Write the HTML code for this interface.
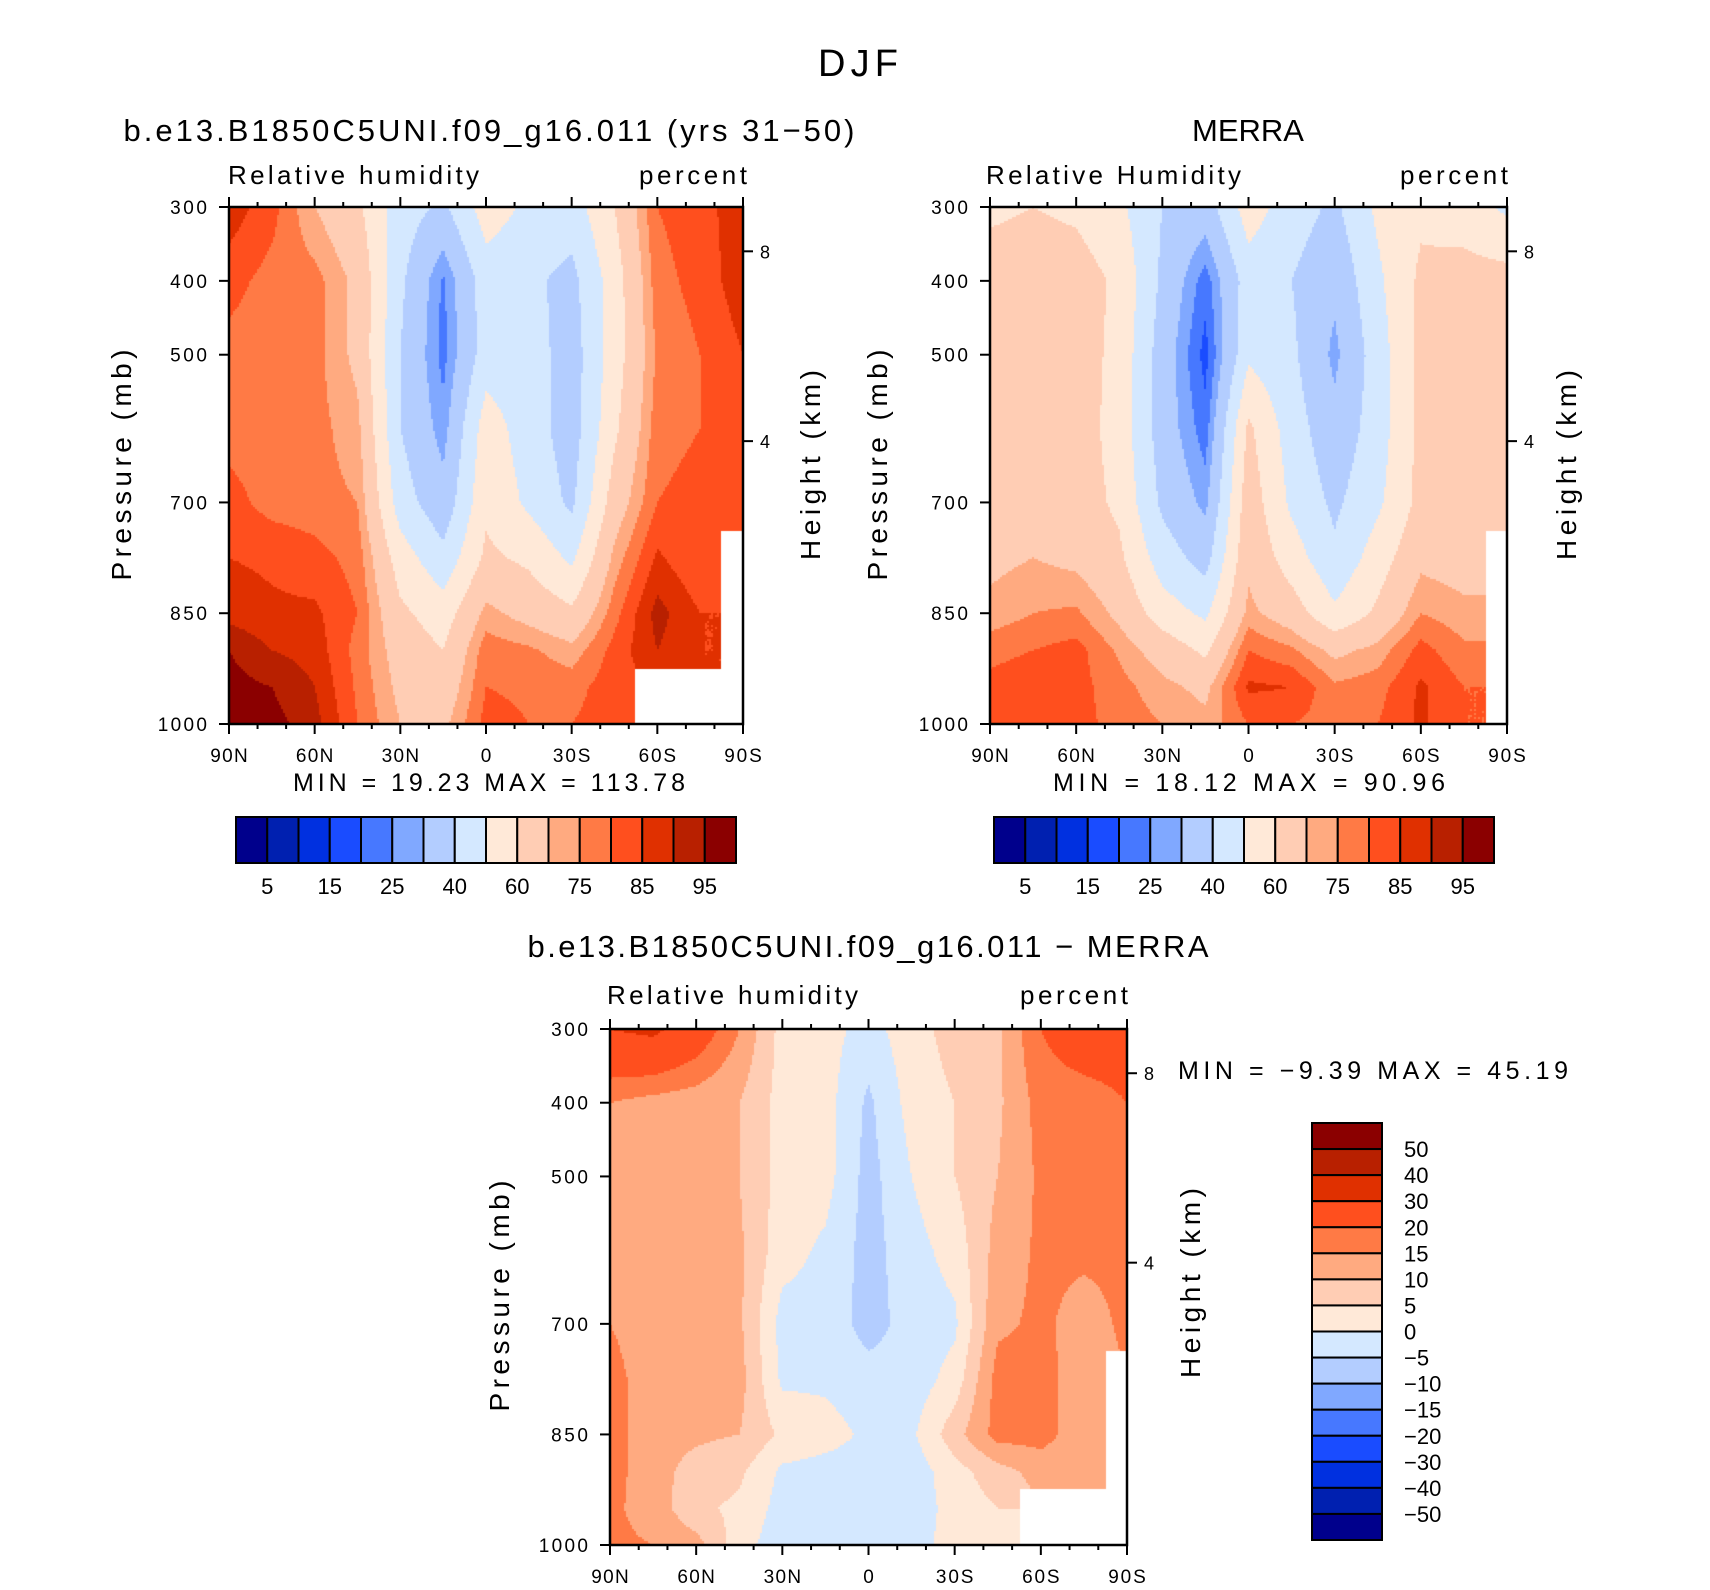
<!DOCTYPE html>
<html><head><meta charset="utf-8">
<style>
html,body{margin:0;padding:0;background:#fff;}
#wrap{position:relative;width:1710px;height:1590px;overflow:hidden;background:#fff;font-family:"Liberation Sans",sans-serif;}
canvas{position:absolute;}
svg{position:absolute;left:0;top:0;}
</style></head>
<body>
<div id="wrap">
<svg id="svg" width="1710" height="1590"></svg>
</div>
<script>
const LATS=[90,75,60,45,30,15,0,-15,-30,-45,-60,-75,-90];
const PRES=[300,400,500,600,700,775,850,900,950,1000];
const RH_MODEL=[
[88,82,78,78,82,85,88,95,97,97],
[82,78,77,77,78,84,86,90,95,97],
[70,77,77,77,77,82,86,88,90,92],
[62,68,68,72,75,78,80,78,79,80],
[45,42,40,40,45,55,62,66,68,70],
[38,24,23,27,33,43,55,60,64,68],
[55,45,45,55,58,62,72,78,80,82],
[48,42,45,45,48,58,67,76,79,80],
[45,37,35,35,38,48,62,72,78,80],
[60,55,55,58,65,72,78,82,83,83],
[80,78,76,78,80,86,92,90,null,null],
[83,82,80,80,82,80,85,85,null,null],
[88,88,85,82,82,null,null,null,null,null]];
const RH_MERRA=[
[58,65,65,65,65,68,72,78,82,84],
[60,66,66,66,66,70,75,80,84,85],
[58,65,65,65,65,68,76,82,82,82],
[52,58,57,56,58,62,68,74,77,78],
[40,38,35,35,38,45,55,66,72,75],
[35,22,18,22,28,36,48,58,68,72],
[55,45,48,62,66,68,72,80,86,80],
[45,40,42,45,48,55,65,76,85,80],
[38,32,28,33,38,42,52,68,76,78],
[52,48,45,45,48,55,62,72,78,80],
[58,62,63,63,63,68,75,82,86,86],
[55,64,65,65,66,66,72,76,80,80],
[48,64,64,60,60,null,null,null,null,null]];
const RH_DIFF=[
[30,15,14,14,15,17,17,17,16,16],
[32,13,12,12,12,12,12,12,13,15],
[25,12,12,12,12,12,11,8,6,12],
[15,10,10,11,11,12,10,6,4,2],
[3,3,3,2,-2,-1,4,-1,-2,-3],
[2,2,2,-1,-2,-1,2,-2,-3,-3],
[-2,-6,-7,-7,-7,-3,-1,-2,-3,-3],
[3,2,0,-2,-3,-3,-1,-3,-3,-2],
[7,5,5,2,-1,2,8,3,2,2],
[9,9,10,12,14,17,17,8,5,3],
[20,17,16,16,16,17,17,12,null,null],
[25,17,16,16,13,12,12,12,null,null],
[24,20,17,16,16,null,null,null,null,null]];
const LEVELS_RH=[5,10,15,20,25,30,40,50,60,70,75,80,85,90,95];
const LEVELS_DIFF=[-50,-40,-30,-20,-15,-10,-5,0,5,10,15,20,30,40,50];
const CB_RH_LABELS=["5","15","25","40","60","75","85","95"];
const CB_DIFF_LABELS=["50","40","30","20","15","10","5","0","\u22125","\u221210","\u221215","\u221220","\u221230","\u221240","\u221250"];
const COLORS=["#00008c","#0020b0","#0030e0","#1a4cff","#4778ff","#80a8ff","#b3cdff","#d4e8ff","#ffe9d8","#ffcdb4","#ffaa80","#ff7a45","#ff4f1e","#e03000","#b82000","#8b0000"];
const XTICK_LABELS=["90N","60N","30N","0","30S","60S","90S"];
const YTICK_LABELS=[300,400,500,700,850,1000];
const HT_LABELS=[8,4];
const HT_PRES=[360,617];

const NS="http://www.w3.org/2000/svg";
const svg=document.getElementById('svg');
const wrap=document.getElementById('wrap');
function mk(tag,attrs,parent){const e=document.createElementNS(NS,tag);for(const k in attrs)e.setAttribute(k,attrs[k]);(parent||svg).appendChild(e);return e;}
function txt(s,x,y,size,anchor,parent,name,rot,len){
  const t=mk('text',{x:x,y:y,'font-size':size,'text-anchor':anchor||'middle','font-family':'Liberation Sans, sans-serif',fill:'#000'},parent);
  if(rot)t.setAttribute('transform','rotate(-90 '+x+' '+y+')');
  if(len){t.setAttribute('textLength',len);t.setAttribute('lengthAdjust','spacing');}
  
  
  t.textContent=s;return t;}
function colorIdx(v,levels){let i=0;while(i<levels.length&&v>=levels[i])i++;return i;}
function sample(field,lat,p){
  let i=0;while(i<LATS.length-2&&lat<LATS[i+1])i++;
  let j=0;while(j<PRES.length-2&&p>PRES[j+1])j++;
  const fx=(LATS[i]-lat)/(LATS[i]-LATS[i+1]);
  const fy=(p-PRES[j])/(PRES[j+1]-PRES[j]);
  const a=field[i][j],b=field[i+1][j],c=field[i][j+1],d=field[i+1][j+1];
  const near=field[fx<0.5?i:i+1][fy<0.5?j:j+1];
  if(near===null)return null;
  const vals=[[a,(1-fx)*(1-fy)],[b,fx*(1-fy)],[c,(1-fx)*fy],[d,fx*fy]];
  let s=0,w=0;for(const[v,ww]of vals){if(v!==null){s+=v*ww;w+=ww;}}
  return w>0?s/w:null;}
function lx(lat,x0,w){return x0+(90-lat)/180*w;}
function py(p,y0,h){return y0+(p-300)/700*h;}

function plot(name,field,levels,x0,y0,w,h){
  const cv=document.createElement('canvas');
  cv.width=w;cv.height=h;cv.style.left=x0+'px';cv.style.top=y0+'px';
  
  
  wrap.insertBefore(cv,svg);
  const ctx=cv.getContext('2d');
  for(let y=0;y<h;y+=2){for(let x=0;x<w;x+=2){
    const lat=90-180*(x+1)/w,p=300+700*(y+1)/h;
    const v=sample(field,lat,p);
    ctx.fillStyle=v===null?'#fff':COLORS[colorIdx(v,levels)];
    ctx.fillRect(x,y,2,2);}}
  const g=mk('g',{});
  
  
  mk('rect',{x:x0,y:y0,width:w,height:h,fill:'none',stroke:'#000','stroke-width':2.5},g);
  for(let lat=90;lat>=-90;lat-=10){
    const X=lx(lat,x0,w);const major=lat%30===0;const L=major?10:5;
    mk('line',{x1:X,y1:y0+h,x2:X,y2:y0+h+L,stroke:'#000','stroke-width':2},g);
    mk('line',{x1:X,y1:y0,x2:X,y2:y0-L,stroke:'#000','stroke-width':2},g);}
  XTICK_LABELS.forEach((s,k)=>txt(s,lx(90-30*k,x0,w),y0+h+38,19,'middle',g,name+'-x-tick-label',false,s.length*12.5));
  YTICK_LABELS.forEach(p=>{const Y=py(p,y0,h);
    mk('line',{x1:x0-10,y1:Y,x2:x0,y2:Y,stroke:'#000','stroke-width':2},g);
    txt(String(p),x0-22,Y+7,19,'end',g,name+'-y-tick-label',false,String(p).length*12.3);});
  HT_LABELS.forEach((km,k)=>{const Y=py(HT_PRES[k],y0,h);
    mk('line',{x1:x0+w,y1:Y,x2:x0+w+10,y2:Y,stroke:'#000','stroke-width':2},g);
    txt(String(km),x0+w+17,Y+7,18,'start',g,name+'-height-tick-label');});
}
function hbar(name,levels,labels,x0,y0,w,h){
  const g=mk('g',{});
  
  
  const bw=w/COLORS.length;
  COLORS.forEach((c,k)=>mk('rect',{x:x0+k*bw,y:y0,width:bw,height:h,fill:c,stroke:'#000','stroke-width':2},g));
  labels.forEach((s,k)=>txt(s,x0+(2*k+1)*bw,y0+h+31,22,'middle',g,name+'-label'));
}
function vbar(name,labels,x0,y0,w,h){
  const g=mk('g',{});
  
  
  const bh=h/COLORS.length;
  COLORS.slice().reverse().forEach((c,k)=>mk('rect',{x:x0,y:y0+k*bh,width:w,height:bh,fill:c,stroke:'#000','stroke-width':2},g));
  labels.forEach((s,k)=>txt(s,x0+w+22,y0+(k+1)*bh+8,22,'start',g,name+'-label'));
}
plot('model-plot',RH_MODEL,LEVELS_RH,229,207,514,517);
plot('merra-plot',RH_MERRA,LEVELS_RH,990,207,517,517);
plot('diff-plot',RH_DIFF,LEVELS_DIFF,610,1029,517,516);

txt('DJF',858,76,38,'middle',null,'figure-title',false,80);
txt('b.e13.B1850C5UNI.f09_g16.011 (yrs 31\u221250)',489,141,31,'middle',null,'model-plot-title',false,731);
txt('MERRA',1248,141,31,'middle',null,'merra-plot-title');
txt('b.e13.B1850C5UNI.f09_g16.011 \u2212 MERRA',868,957,31,'middle',null,'diff-plot-title',false,681);
txt('Relative humidity',228,184,26,'start',null,'model-variable-label',false,251);
txt('percent',747,184,26,'end',null,'model-units-label',false,108);
txt('Relative Humidity',986,184,26,'start',null,'merra-variable-label',false,255);
txt('percent',1508,184,26,'end',null,'merra-units-label',false,108);
txt('Relative humidity',607,1004,26,'start',null,'diff-variable-label',false,251);
txt('percent',1128,1004,26,'end',null,'diff-units-label',false,108);
txt('Pressure (mb)',131,465,28,'middle',null,'model-y-axis-title',true,231);
txt('Height (km)',820,465,28,'middle',null,'model-right-axis-title',true,190);
txt('Pressure (mb)',887,465,28,'middle',null,'merra-y-axis-title',true,231);
txt('Height (km)',1576,465,28,'middle',null,'merra-right-axis-title',true,190);
txt('Pressure (mb)',509,1296,28,'middle',null,'diff-y-axis-title',true,231);
txt('Height (km)',1200,1283,28,'middle',null,'diff-right-axis-title',true,190);
txt('MIN =   19.23   MAX = 113.78',489,791,25,'middle',null,'model-min-max',false,392);
txt('MIN =   18.12   MAX =   90.96',1249,791,25,'middle',null,'merra-min-max',false,392);
txt('MIN =   \u22129.39   MAX =   45.19',1178,1079,25,'start',null,'diff-min-max',false,390);
hbar('model-colorbar',LEVELS_RH,CB_RH_LABELS,236,817,500,46);
hbar('merra-colorbar',LEVELS_RH,CB_RH_LABELS,994,817,500,46);
vbar('diff-colorbar',CB_DIFF_LABELS,1312,1123,70,417);
</script>
</body></html>
